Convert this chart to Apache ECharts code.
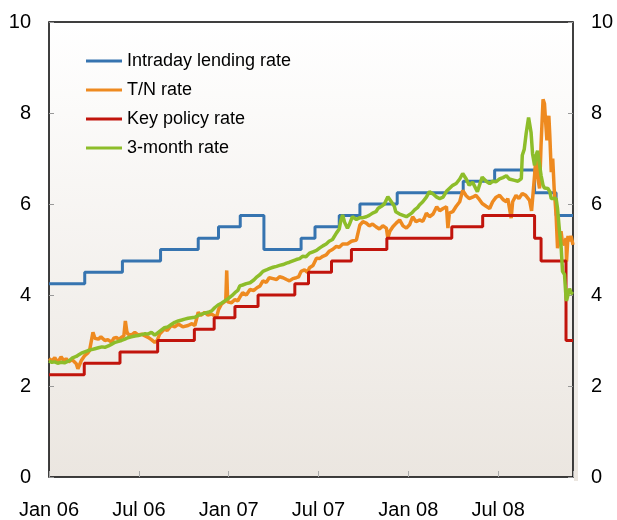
<!DOCTYPE html>
<html>
<head>
<meta charset="utf-8">
<script src="https://cdn.jsdelivr.net/npm/echarts@6/dist/echarts.min.js"></script>
<style>
html,body{margin:0;padding:0;background:#fff;}
#c{width:617px;height:520px;}
</style>
</head>
<body>
<div id="c"></div>
<script>
// ---- DATA ----
const seriesNames = ['Intraday lending rate', 'T/N rate', 'Key policy rate', '3-month rate'];
const xTickLabels = ['Jan 06', 'Jul 06', 'Jan 07', 'Jul 07', 'Jan 08', 'Jul 08'];
const yTicks = [0, 2, 4, 6, 8, 10];
const startDate = '2006-01-01';
const endDate = '2008-12-01';

// step series: [date of change, new level]
const intradayRate = [
  ['2006-01-01', 4.25], ['2006-03-13', 4.50], ['2006-05-29', 4.75], ['2006-08-15', 5.00],
  ['2006-10-31', 5.25], ['2006-12-11', 5.50], ['2007-01-25', 5.75], ['2007-03-12', 5.00],
  ['2007-05-27', 5.25], ['2007-06-24', 5.50], ['2007-08-13', 5.75], ['2007-09-24', 6.00],
  ['2007-12-09', 6.25], ['2008-04-21', 6.50], ['2008-06-24', 6.75], ['2008-09-14', 6.25],
  ['2008-10-28', 5.75], ['2008-12-01', 5.75]
];
const keyPolicyRate = [
  ['2006-01-01', 2.25], ['2006-03-12', 2.50], ['2006-05-24', 2.75], ['2006-08-09', 3.00],
  ['2006-10-23', 3.25], ['2006-12-02', 3.50], ['2007-01-14', 3.75], ['2007-02-28', 4.00],
  ['2007-05-14', 4.25], ['2007-06-11', 4.50], ['2007-07-28', 4.75], ['2007-09-07', 5.00],
  ['2007-11-18', 5.25], ['2008-03-29', 5.50], ['2008-05-31', 5.75], ['2008-09-14', 5.25],
  ['2008-09-27', 4.75], ['2008-11-17', 3.00], ['2008-12-01', 3.00]
];
const tnRate = [
  ['2006-01-01',2.60],['2006-01-07',2.55],['2006-01-13',2.62],['2006-01-19',2.52],['2006-01-26',2.64],
  ['2006-02-01',2.55],['2006-02-05',2.60],['2006-02-10',2.53],['2006-02-16',2.58],['2006-02-24',2.49],
  ['2006-02-27',2.38],['2006-03-06',2.56],['2006-03-13',2.67],['2006-03-19',2.72],['2006-03-23',2.78],
  ['2006-03-30',3.18],['2006-04-03',3.05],['2006-04-10',3.03],['2006-04-15',3.08],['2006-04-23',3.00],
  ['2006-04-29',3.02],['2006-05-07',2.96],['2006-05-11',3.05],['2006-05-17',3.07],['2006-05-21',3.02],
  ['2006-05-27',3.07],['2006-06-01',3.10],['2006-06-04',3.43],['2006-06-07',3.20],['2006-06-09',3.14],
  ['2006-06-16',3.12],['2006-06-23',3.18],['2006-06-30',3.12],['2006-07-07',3.14],['2006-07-14',3.10],
  ['2006-07-20',3.07],['2006-07-27',3.02],['2006-08-03',2.96],['2006-08-08',3.00],['2006-08-13',3.14],
  ['2006-08-23',3.25],['2006-08-29',3.22],['2006-09-06',3.33],['2006-09-13',3.30],['2006-09-20',3.36],
  ['2006-09-29',3.30],['2006-10-10',3.33],['2006-10-18',3.37],['2006-10-24',3.33],['2006-10-31',3.62],
  ['2006-11-05',3.55],['2006-11-13',3.62],['2006-11-19',3.56],['2006-11-27',3.58],['2006-12-01',3.55],
  ['2006-12-07',3.51],['2006-12-11',3.68],['2006-12-17',3.80],['2006-12-21',3.78],['2006-12-26',3.87],
  ['2006-12-28',4.54],['2006-12-30',3.85],['2007-01-07',3.83],['2007-01-14',3.90],['2007-01-20',3.87],
  ['2007-01-24',3.95],['2007-01-30',4.05],['2007-02-06',4.00],['2007-02-13',4.12],['2007-02-20',4.10],
  ['2007-02-26',4.16],['2007-03-04',4.20],['2007-03-10',4.31],['2007-03-17',4.28],['2007-03-23',4.38],
  ['2007-03-31',4.36],['2007-04-07',4.34],['2007-04-13',4.40],['2007-04-20',4.38],['2007-04-27',4.34],
  ['2007-05-03',4.31],['2007-05-10',4.36],['2007-05-17',4.38],['2007-05-22',4.40],['2007-05-27',4.52],
  ['2007-06-03',4.55],['2007-06-09',4.50],['2007-06-13',4.60],['2007-06-20',4.65],['2007-06-27',4.81],
  ['2007-07-03',4.80],['2007-07-10',4.85],['2007-07-17',4.88],['2007-07-23',4.96],['2007-07-30',5.00],
  ['2007-08-07',5.07],['2007-08-13',5.05],['2007-08-20',5.12],['2007-08-24',5.10],['2007-08-30',5.12],
  ['2007-09-07',5.18],['2007-09-11',5.15],['2007-09-17',5.21],['2007-09-24',5.54],['2007-09-30',5.61],
  ['2007-10-07',5.58],['2007-10-13',5.52],['2007-10-20',5.56],['2007-10-27',5.50],['2007-11-03',5.45],
  ['2007-11-10',5.52],['2007-11-17',5.47],['2007-11-20',5.25],['2007-11-24',5.40],['2007-11-30',5.50],
  ['2007-12-07',5.58],['2007-12-14',5.65],['2007-12-21',5.52],['2007-12-28',5.47],['2008-01-04',5.55],
  ['2008-01-10',5.72],['2008-01-17',5.61],['2008-01-24',5.65],['2008-01-31',5.62],['2008-02-03',5.69],
  ['2008-02-07',5.80],['2008-02-13',5.72],['2008-02-20',5.78],['2008-02-27',5.94],['2008-03-04',5.85],
  ['2008-03-11',5.90],['2008-03-18',5.94],['2008-03-21',5.47],['2008-03-24',5.80],['2008-03-31',5.83],
  ['2008-04-07',5.95],['2008-04-14',6.05],['2008-04-20',6.30],['2008-04-27',6.18],['2008-05-03',6.12],
  ['2008-05-10',6.15],['2008-05-17',6.19],['2008-05-24',6.10],['2008-05-30',6.01],['2008-06-07',5.95],
  ['2008-06-14',5.90],['2008-06-20',6.05],['2008-06-27',6.15],['2008-07-04',6.19],['2008-07-11',6.10],
  ['2008-07-18',6.05],['2008-07-21',6.12],['2008-07-28',5.69],['2008-07-31',6.05],['2008-08-07',6.19],
  ['2008-08-13',6.12],['2008-08-20',6.23],['2008-08-27',6.19],['2008-09-04',6.08],['2008-09-08',5.85],
  ['2008-09-10',5.83],['2008-09-14',6.63],['2008-09-17',7.07],['2008-09-20',6.60],['2008-09-24',6.34],
  ['2008-09-27',7.30],['2008-10-01',8.30],['2008-10-04',8.20],['2008-10-06',7.86],['2008-10-09',7.40],
  ['2008-10-13',7.94],['2008-10-15',7.50],['2008-10-18',6.70],['2008-10-21',7.00],['2008-10-24',6.34],
  ['2008-10-28',5.76],['2008-10-31',5.03],['2008-11-04',5.20],['2008-11-07',5.40],['2008-11-10',5.15],
  ['2008-11-14',5.10],['2008-11-17',5.25],['2008-11-18',4.74],['2008-11-21',5.30],['2008-11-24',5.18],
  ['2008-11-27',5.30],['2008-12-01',5.10]
];
const threeMonthRate = [
  ['2006-01-01',2.55],['2006-01-07',2.52],['2006-01-13',2.53],['2006-01-19',2.50],['2006-01-26',2.52],
  ['2006-02-02',2.51],['2006-02-10',2.55],['2006-02-17',2.62],['2006-02-24',2.65],['2006-02-28',2.68],
  ['2006-03-06',2.72],['2006-03-13',2.75],['2006-03-20',2.78],['2006-03-27',2.80],['2006-04-03',2.82],
  ['2006-04-10',2.84],['2006-04-17',2.86],['2006-04-23',2.85],['2006-04-30',2.88],['2006-05-07',2.92],
  ['2006-05-14',2.96],['2006-05-21',2.98],['2006-05-27',3.00],['2006-06-03',3.03],['2006-06-09',3.06],
  ['2006-06-16',3.08],['2006-06-23',3.10],['2006-06-30',3.11],['2006-07-07',3.13],['2006-07-14',3.15],
  ['2006-07-20',3.14],['2006-07-27',3.18],['2006-08-03',3.12],['2006-08-13',3.20],['2006-08-23',3.28],
  ['2006-08-30',3.30],['2006-09-06',3.35],['2006-09-13',3.40],['2006-09-20',3.43],['2006-09-27',3.45],
  ['2006-10-03',3.47],['2006-10-10',3.49],['2006-10-17',3.50],['2006-10-24',3.51],['2006-10-31',3.55],
  ['2006-11-07',3.58],['2006-11-13',3.60],['2006-11-20',3.62],['2006-11-27',3.65],['2006-12-03',3.72],
  ['2006-12-10',3.78],['2006-12-17',3.82],['2006-12-24',3.87],['2006-12-31',3.92],['2007-01-07',3.98],
  ['2007-01-14',4.05],['2007-01-20',4.10],['2007-01-24',4.20],['2007-01-30',4.22],['2007-02-06',4.25],
  ['2007-02-13',4.27],['2007-02-20',4.33],['2007-02-26',4.40],['2007-03-04',4.45],['2007-03-10',4.52],
  ['2007-03-17',4.55],['2007-03-23',4.58],['2007-03-31',4.61],['2007-04-07',4.63],['2007-04-13',4.65],
  ['2007-04-20',4.67],['2007-04-27',4.70],['2007-05-03',4.72],['2007-05-10',4.75],['2007-05-17',4.78],
  ['2007-05-24',4.80],['2007-05-30',4.85],['2007-06-06',4.84],['2007-06-13',4.92],['2007-06-20',4.95],
  ['2007-06-27',4.98],['2007-07-03',5.03],['2007-07-10',5.08],['2007-07-17',5.12],['2007-07-23',5.18],
  ['2007-07-30',5.22],['2007-08-07',5.36],['2007-08-13',5.45],['2007-08-16',5.62],['2007-08-20',5.76],
  ['2007-08-24',5.60],['2007-08-30',5.47],['2007-09-03',5.55],['2007-09-09',5.72],['2007-09-17',5.66],
  ['2007-09-24',5.70],['2007-09-30',5.70],['2007-10-07',5.72],['2007-10-13',5.75],['2007-10-20',5.80],
  ['2007-10-27',5.83],['2007-10-31',5.90],['2007-11-07',5.95],['2007-11-13',6.00],['2007-11-20',6.16],
  ['2007-11-27',6.05],['2007-12-03',5.95],['2007-12-06',5.83],['2007-12-14',5.78],['2007-12-21',5.75],
  ['2007-12-28',5.72],['2007-12-31',5.72],['2008-01-08',5.80],['2008-01-14',5.87],['2008-01-20',5.92],
  ['2008-01-24',5.98],['2008-01-31',6.05],['2008-02-07',6.15],['2008-02-13',6.27],['2008-02-20',6.22],
  ['2008-02-27',6.15],['2008-03-04',6.12],['2008-03-11',6.15],['2008-03-18',6.28],['2008-03-24',6.34],
  ['2008-03-31',6.41],['2008-04-07',6.45],['2008-04-14',6.55],['2008-04-20',6.67],['2008-04-27',6.55],
  ['2008-05-03',6.41],['2008-05-10',6.48],['2008-05-14',6.52],['2008-05-20',6.27],['2008-05-24',6.40],
  ['2008-05-30',6.59],['2008-06-07',6.50],['2008-06-14',6.45],['2008-06-20',6.50],['2008-06-27',6.49],
  ['2008-07-04',6.55],['2008-07-11',6.58],['2008-07-18',6.62],['2008-07-24',6.55],['2008-07-28',6.59],
  ['2008-08-04',6.52],['2008-08-11',6.50],['2008-08-18',6.56],['2008-08-20',7.07],['2008-08-24',7.20],
  ['2008-08-28',7.55],['2008-09-02',7.90],['2008-09-07',7.57],['2008-09-10',7.10],['2008-09-14',6.85],
  ['2008-09-17',7.07],['2008-09-20',7.17],['2008-09-24',7.14],['2008-09-27',6.63],['2008-10-01',6.41],
  ['2008-10-04',6.35],['2008-10-11',6.34],['2008-10-15',6.27],['2008-10-18',6.12],['2008-10-28',6.12],
  ['2008-10-31',5.90],['2008-11-04',5.40],['2008-11-07',5.10],['2008-11-10',4.52],['2008-11-14',4.45],
  ['2008-11-17',3.94],['2008-11-18',3.87],['2008-11-24',4.14],['2008-11-27',4.05],['2008-12-01',4.02]
];

// ---- helpers ----
function toM(s) {
  const p = s.split('-').map(Number);
  const dim = new Date(p[0], p[1], 0).getDate();
  return (p[0] - 2006) * 12 + (p[1] - 1) + (p[2] - 1) / dim;
}
const conv = arr => arr.map(d => [toM(d[0]), d[1]]);
const xMin = toM(startDate), xMax = toM(endDate);

const colors = ['#3674b0', '#ee8a20', '#c1140c', '#8dbd2a'];
const FONT = '"Liberation Sans", Arial, sans-serif';

const chart = echarts.init(document.getElementById('c'), null, {renderer: 'canvas'});
const mkGrad = () => new echarts.graphic.LinearGradient(0, 0, 0, 1, [
  {offset: 0, color: '#ffffff'}, {offset: 1, color: '#ebe6e0'}
]);

const lineSeries = (name, data, color, step, width) => ({
  name, type: 'line', data: conv(data), step: step ? 'end' : false,
  showSymbol: false, symbol: 'none', smooth: false,
  lineStyle: {color, width}, itemStyle: {color}, animation: false
});

chart.setOption({
  animation: false,
  color: colors,
  grid: {
    left: 49, right: 44, top: 22, bottom: 39,
    show: true, backgroundColor: mkGrad(), borderColor: '#000', borderWidth: 1.5
  },
  graphic: [{
    type: 'rect', left: 574, top: 22, z: -1,
    shape: {width: 4, height: 459},
    style: {fill: mkGrad()}
  }],
  legend: {
    orient: 'vertical', left: 86, top: 52, padding: 0,
    icon: 'rect',
    itemWidth: 36, itemHeight: 3, itemGap: 11,
    data: seriesNames,
    textStyle: {fontFamily: FONT, fontSize: 18, color: '#000', lineHeight: 18}
  },
  xAxis: {
    type: 'value', min: xMin, max: xMax, interval: 6,
    axisLine: {show: false},
    axisTick: {show: true, inside: true, length: 6, lineStyle: {color: '#aaa', width: 1}},
    splitLine: {show: false},
    axisLabel: {
      fontFamily: FONT, fontSize: 20, color: '#000', margin: 23,
      formatter: v => {
        const i = Math.round(v / 6);
        return (Math.abs(v - i * 6) < 1e-6 && xTickLabels[i]) ? xTickLabels[i] : '';
      }
    }
  },
  yAxis: [0, 1].map(k => ({
    type: 'value', min: yTicks[0], max: yTicks[yTicks.length - 1], interval: 2,
    position: k === 0 ? 'left' : 'right',
    axisLine: {show: false},
    axisTick: {show: true, inside: true, length: 5, lineStyle: {color: '#999', width: 1}},
    splitLine: {show: false},
    axisLabel: {fontFamily: FONT, fontSize: 20, color: '#000', margin: 18}
  })),
  series: [
    lineSeries(seriesNames[0], intradayRate, colors[0], true, 3),
    lineSeries(seriesNames[1], tnRate, colors[1], false, 3.5),
    lineSeries(seriesNames[2], keyPolicyRate, colors[2], true, 3),
    lineSeries(seriesNames[3], threeMonthRate, colors[3], false, 3.5)
  ]
});
</script>
</body>
</html>
